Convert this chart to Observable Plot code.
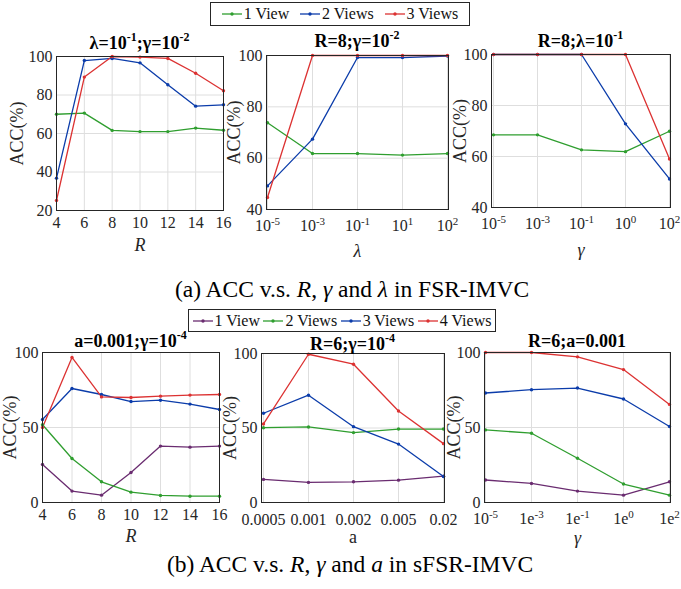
<!DOCTYPE html>
<html><head><meta charset="utf-8">
<script src="https://cdn.jsdelivr.net/npm/d3@7"></script>
<script src="https://cdn.jsdelivr.net/npm/@observablehq/plot@0.6"></script>
<style>
body{margin:0;background:#fff;}
#root{position:relative;width:681px;height:589px;overflow:hidden;font-family:"Liberation Serif","Times New Roman",serif;color:#000;}
#root svg{position:absolute;overflow:visible;}
#root svg text{font-family:"Liberation Serif","Times New Roman",serif !important;}
.title{position:absolute;font-family:"Liberation Serif",serif;font-weight:bold;font-size:18px;line-height:18px;white-space:nowrap;transform:translateX(-50%);}
.title sup{font-size:12px;line-height:0;position:relative;top:-1px;vertical-align:super;}
.legend{position:absolute;font-family:"Liberation Serif",serif;border:1px solid #262626;background:#fff;display:flex;align-items:center;justify-content:space-evenly;font-size:16px;box-sizing:border-box;color:#111;}
.item{display:flex;align-items:center;white-space:nowrap;}
.item svg{position:static !important;margin-right:2px;}
.caption{position:absolute;font-family:"Liberation Serif",serif;font-size:23.5px;line-height:24px;white-space:nowrap;transform:translateX(-50%);}
</style></head>
<body><div id="root"></div>
<script>
// ---------- data ----------
const rValues = [4, 6, 8, 10, 12, 14, 16];
const lambdaLabels = ["10^-5", "10^-3", "10^-1", "10^1", "10^2"];
const gammaLabelsA = ["10^-5", "10^-3", "10^-1", "10^0", "10^2"];
const aLabels = ["0.0005", "0.001", "0.002", "0.005", "0.02"];
const gammaLabelsB = ["10^-5", "1e^-3", "1e^-1", "1e^0", "1e^2"];

const seriesA = ["1 View", "2 Views", "3 Views"];
const seriesB = ["1 View", "2 Views", "3 Views", "4 Views"];
const colorsA = ["#2f9e2f", "#0b3caa", "#dc3232"];
const colorsB = ["#6a2c70", "#2f9e2f", "#0b3caa", "#dc3232"];

// (a) FSR-IMVC
const a1View1 = [70.0, 70.6, 61.6, 61.0, 61.0, 62.8, 61.7];
const a1View2 = [36.8, 97.9, 99.0, 96.7, 85.3, 74.2, 74.9];
const a1View3 = [25.2, 89.3, 100, 99.7, 99.0, 91.3, 82.2];
const a2View1 = [73.8, 61.8, 61.8, 61.2, 61.8];
const a2View2 = [49.2, 67.4, 99.2, 99.2, 99.8];
const a2View3 = [44.7, 100, 100, 100, 100];
const a3View1 = [68.5, 68.5, 62.6, 61.9, 69.9];
const a3View2 = [100, 100, 100, 72.8, 51.2];
const a3View3 = [100, 100, 100, 100, 59.0];
// (b) sFSR-IMVC
const b1View1 = [25.3, 7.6, 4.9, 20.0, 37.6, 36.9, 37.6];
const b1View2 = [51.8, 29.3, 13.8, 6.9, 4.7, 4.2, 4.2];
const b1View3 = [55.3, 76.0, 72.0, 67.3, 68.2, 65.6, 62.0];
const b1View4 = [50.0, 96.7, 70.4, 70.0, 70.9, 71.6, 72.0];
const b2View1 = [15.5, 13.5, 13.9, 15.0, 17.7];
const b2View2 = [50.2, 50.7, 46.9, 49.3, 49.3];
const b2View3 = [59.9, 72.0, 50.9, 39.2, 17.5];
const b2View4 = [52.7, 99.5, 92.8, 61.4, 39.5];
const b3View1 = [15.0, 12.7, 7.6, 4.9, 13.8];
const b3View2 = [48.4, 46.2, 29.5, 12.3, 4.9];
const b3View3 = [73.0, 75.2, 76.3, 69.0, 50.7];
const b3View4 = [100, 100, 97.1, 88.6, 65.4];

const titles = ["λ=10^-1;γ=10^-2", "R=8;γ=10^-2", "R=8;λ=10^-1", "a=0.001;γ=10^-4", "R=6;γ=10^-4", "R=6;a=0.001"];
const xLabels = ["R", "λ", "γ", "R", "a", "γ"];
const yLabel = "ACC(%)";
const captions = ["(a) ACC v.s. <i>R</i>, <i>γ</i> and <i>λ</i> in FSR-IMVC", "(b) ACC v.s. <i>R</i>, <i>γ</i> and <i>a</i> in sFSR-IMVC"];

// ---------- layout ----------
const root = document.getElementById("root");
const NS = "http://www.w3.org/2000/svg";
const SERIF = "'Liberation Serif', 'Times New Roman', serif";

function supify(svg) {
  svg.querySelectorAll('g[aria-label="x-axis tick label"] text').forEach(t => {
    const s = t.textContent; const k = s.indexOf("^"); if (k < 0) return;
    t.textContent = "";
    const a = document.createElementNS(NS, "tspan"); a.textContent = s.slice(0, k);
    const b = document.createElementNS(NS, "tspan"); b.textContent = s.slice(k + 1);
    b.setAttribute("dy", "-0.55em"); b.setAttribute("font-size", "11");
    t.append(a, b);
  });
}

function panel(p) {
  const mL = 56, mT = 6, mR = 16, mB = 58;
  const data = [];
  p.series.forEach((vals, si) => vals.forEach((v, i) => data.push({x: p.xs[i], y: v, s: p.names[si]})));
  const linear = p.linear;
  const svg = Plot.plot({
    width: mL + (p.fr - p.fl) + mR, height: mT + (p.fb - p.ft) + mB,
    marginLeft: mL, marginTop: mT, marginRight: mR, marginBottom: mB,
    style: {fontFamily: SERIF, fontSize: "16px", color: "#262626", background: "transparent", overflow: "visible"},
    x: linear ? {type: "linear", domain: [p.xs[0], p.xs[p.xs.length - 1]]} : {type: "point", domain: p.xs, padding: 0},
    y: {domain: p.yDomain},
    color: {domain: p.names, range: p.colors},
    marks: [
      linear ? Plot.gridX({ticks: p.xs, stroke: "#dedede", strokeOpacity: 1}) : Plot.gridX({stroke: "#dedede", strokeOpacity: 1}),
      Plot.gridY({ticks: p.yTicks, stroke: "#dedede", strokeOpacity: 1}),
      Plot.axisX(p.xs, {tickSize: 0, tickPadding: p.xPad, tickFormat: d => String(d), fontFamily: SERIF,
        label: p.xLabel, labelAnchor: "center", labelArrow: "none", labelOffset: p.xOff, fontSize: 16}),
      Plot.axisY(p.yTicks, {tickSize: 0, tickPadding: 4, tickFormat: d => String(d), fontFamily: SERIF,
        label: yLabel, labelAnchor: "center", labelArrow: "none", labelOffset: p.yOff, fontSize: 16}),
      Plot.line(data, {x: "x", y: "y", stroke: "s", strokeWidth: 1.3}),
      Plot.dot(data, {x: "x", y: "y", fill: "s", r: 1.7}),
      Plot.frame({stroke: "#262626", strokeWidth: 1})
    ]
  });
  svg.style.left = (p.fl - mL) + "px";
  svg.style.top = (p.ft - mT) + "px";
  supify(svg);
  svg.querySelectorAll("text").forEach(t => t.style.fontFamily = SERIF);
  svg.querySelectorAll('g[aria-label="x-axis label"] text, g[aria-label="y-axis label"] text').forEach(t => t.setAttribute("font-size", "18"));
  svg.querySelectorAll('g[aria-label="x-axis label"] text').forEach(t => { if (p.italic) t.setAttribute("font-style", "italic"); });
  root.appendChild(svg);
  const tt = document.createElement("div");
  tt.className = "title";
  tt.innerHTML = p.title.replace(/\^(-?\d+)/g, "<sup>$1</sup>");
  tt.style.left = ((p.fl + p.fr) / 2) + "px";
  tt.style.top = p.tTop + "px";
  root.appendChild(tt);
}

const panels = [
  {fl: 56, ft: 56, fr: 223, fb: 210, xs: rValues, linear: true, series: [a1View1, a1View2, a1View3], names: seriesA, colors: colorsA, yDomain: [20, 100], yTicks: [20, 40, 60, 80, 100], xPad: 6, xOff: 40, yOff: 46, italic: true, tTop: 34},
  {fl: 266, ft: 55, fr: 448, fb: 209, xs: lambdaLabels, series: [a2View1, a2View2, a2View3], names: seriesA, colors: colorsA, yDomain: [40, 100], yTicks: [40, 60, 80, 100], xPad: 10, xOff: 47, yOff: 39, italic: true, tTop: 32},
  {fl: 491, ft: 54, fr: 670, fb: 207, xs: gammaLabelsA, series: [a3View1, a3View2, a3View3], names: seriesA, colors: colorsA, yDomain: [40, 100], yTicks: [40, 60, 80, 100], xPad: 10, xOff: 48, yOff: 38, italic: true, tTop: 32},
  {fl: 42, ft: 352, fr: 219, fb: 502, xs: rValues, linear: true, series: [b1View1, b1View2, b1View3, b1View4], names: seriesB, colors: colorsB, yDomain: [0, 100], yTicks: [0, 50, 100], xPad: 6, xOff: 39, yOff: 39, italic: true, tTop: 332},
  {fl: 261, ft: 353, fr: 444, fb: 502, xs: aLabels, series: [b2View1, b2View2, b2View3, b2View4], names: seriesB, colors: colorsB, yDomain: [0, 100], yTicks: [0, 50, 100], xPad: 11, xOff: 40, yOff: 38, italic: false, tTop: 335},
  {fl: 484, ft: 352, fr: 670, fb: 502, xs: gammaLabelsB, series: [b3View1, b3View2, b3View3, b3View4], names: seriesB, colors: colorsB, yDomain: [0, 100], yTicks: [0, 50, 100], xPad: 10, xOff: 41, yOff: 37, italic: true, tTop: 332}
];
panels.forEach((p, i) => panel({...p, title: titles[i], xLabel: xLabels[i]}));

function legend(names, colors, left, top, width, height) {
  const box = document.createElement("div");
  box.className = "legend";
  Object.assign(box.style, {left: left + "px", top: top + "px", width: width + "px", height: height + "px"});
  names.forEach((n, i) => {
    const it = document.createElement("div"); it.className = "item";
    it.innerHTML = `<svg width="20" height="10"><line x1="0" y1="5" x2="20" y2="5" stroke="${colors[i]}" stroke-width="1.3"/><circle cx="10" cy="5" r="1.7" fill="${colors[i]}"/></svg><span>${n}</span>`;
    box.appendChild(it);
  });
  root.appendChild(box);
}
legend(seriesA, colorsA, 210, 2, 260, 24);
legend(seriesB, colorsB, 188, 309, 308, 23);

function caption(html, cx, top) {
  const c = document.createElement("div"); c.className = "caption";
  c.innerHTML = html; c.style.left = cx + "px"; c.style.top = top + "px";
  root.appendChild(c);
}
caption(captions[0], 352, 277);
caption(captions[1], 350, 552);
</script></body></html>
